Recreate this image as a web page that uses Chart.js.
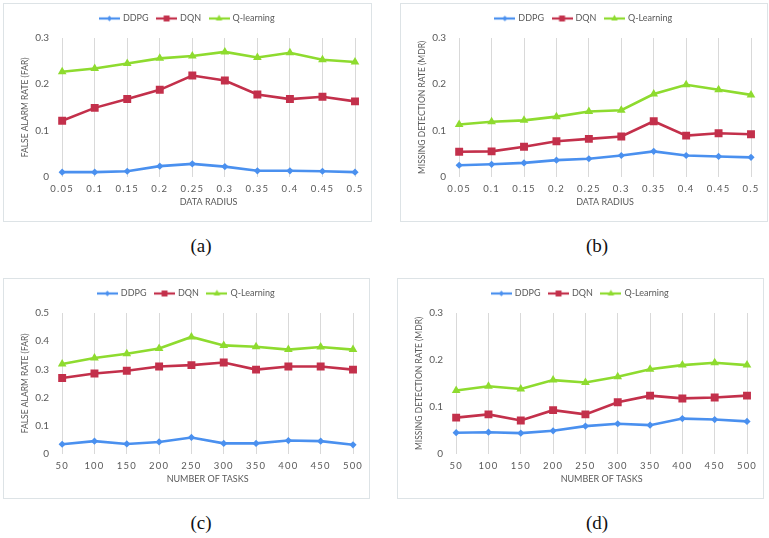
<!DOCTYPE html>
<html>
<head>
<meta charset="utf-8">
<script src="https://cdn.jsdelivr.net/npm/chart.js@4"></script>
<style>
  body { margin: 0; background: #fff; width: 769px; height: 538px; position: relative; overflow: hidden; }
  .box { position: absolute; border: 1px solid #dde3e6; box-sizing: border-box; background: #fff; }
  .box canvas { display: block; }
  .cap { position: absolute; font-family: "Liberation Serif", serif; font-size: 19px; color: #111; transform: translateX(-50%); }
</style>
</head>
<body>
<div class="box" style="left:3px;top:3px;width:369px;height:219px"><canvas id="chartA"></canvas></div>
<div class="box" style="left:400px;top:3px;width:368px;height:219px"><canvas id="chartB"></canvas></div>
<div class="box" style="left:3px;top:278px;width:367px;height:221px"><canvas id="chartC"></canvas></div>
<div class="box" style="left:397px;top:278px;width:367px;height:221px"><canvas id="chartD"></canvas></div>
<div class="cap" style="left:201px;top:235px">(a)</div>
<div class="cap" style="left:597px;top:235px">(b)</div>
<div class="cap" style="left:201px;top:512px">(c)</div>
<div class="cap" style="left:597px;top:512px">(d)</div>
<script>
// categories
const radiusLabels = ["0.05", "0.1", "0.15", "0.2", "0.25", "0.3", "0.35", "0.4", "0.45", "0.5"];
const taskLabels = ["50", "100", "150", "200", "250", "300", "350", "400", "450", "500"];

// (a) false alarm rate vs data radius
const farRadiusDDPG = [0.010, 0.010, 0.012, 0.023, 0.028, 0.022, 0.013, 0.013, 0.012, 0.010];
const farRadiusDQN = [0.121, 0.149, 0.168, 0.188, 0.219, 0.208, 0.178, 0.168, 0.173, 0.163];
const farRadiusQ = [0.227, 0.234, 0.245, 0.256, 0.261, 0.270, 0.258, 0.268, 0.253, 0.248];

// (b) missing detection rate vs data radius
const mdrRadiusDDPG = [0.025, 0.027, 0.030, 0.036, 0.039, 0.046, 0.055, 0.046, 0.044, 0.042];
const mdrRadiusDQN = [0.054, 0.055, 0.065, 0.077, 0.082, 0.087, 0.120, 0.089, 0.094, 0.092];
const mdrRadiusQ = [0.113, 0.119, 0.122, 0.130, 0.141, 0.144, 0.179, 0.199, 0.188, 0.177];

// (c) false alarm rate vs number of tasks
const farTaskDDPG = [0.034, 0.045, 0.035, 0.042, 0.058, 0.037, 0.037, 0.047, 0.045, 0.032];
const farTaskDQN = [0.269, 0.285, 0.295, 0.310, 0.315, 0.324, 0.299, 0.310, 0.310, 0.299];
const farTaskQ = [0.319, 0.340, 0.355, 0.374, 0.415, 0.385, 0.380, 0.370, 0.379, 0.370];

// (d) missing detection rate vs number of tasks
const mdrTaskDDPG = [0.045, 0.046, 0.044, 0.049, 0.059, 0.064, 0.061, 0.075, 0.073, 0.069];
const mdrTaskDQN = [0.077, 0.084, 0.071, 0.093, 0.084, 0.110, 0.124, 0.118, 0.120, 0.124];
const mdrTaskQ = [0.135, 0.144, 0.138, 0.157, 0.152, 0.164, 0.180, 0.189, 0.194, 0.189];

const blue = "#4a90ef";
const red = "#c3304b";
const green = "#8edb2f";
const tickColor = "#595959";
const font = "Lato, 'Open Sans', sans-serif";

// legend swatch: line with marker in the middle
function swatch(color, style, r) {
  const c = document.createElement("canvas");
  c.width = 21;
  c.height = 12;
  const ctx = c.getContext("2d");
  ctx.strokeStyle = color;
  ctx.lineWidth = 2.2;
  ctx.beginPath();
  ctx.moveTo(0, 6);
  ctx.lineTo(21, 6);
  ctx.stroke();
  ctx.fillStyle = color;
  Chart.helpers.drawPoint(ctx, { pointStyle: style, radius: r, rotation: 0, borderWidth: 0 }, 10.5, 6);
  return c;
}

// letter spacing for x tick labels (drawn after datasets, z=1)
const spacing = {
  id: "spacing",
  beforeInit(chart) {
    // a bit more room under the legend
    const fit = chart.legend.fit;
    chart.legend.fit = function () {
      fit.call(this);
      this.height += 5;
    };
  },
  afterDatasetsDraw(chart) {
    chart.ctx.letterSpacing = "1.2px";
  },
  afterDraw(chart) {
    chart.ctx.letterSpacing = "0px";
  },
};

function makeChart(id, labels, ddpg, dqn, q, qName, yMax, yTitle, xTitle) {
  const canvas = document.getElementById(id);
  const box = canvas.parentElement;
  canvas.width = box.clientWidth;
  canvas.height = box.clientHeight;
  const sets = [
    { label: "DDPG", data: ddpg, color: blue, style: "rectRot", r: 3.6 },
    { label: "DQN", data: dqn, color: red, style: "rect", r: 5.6 },
    { label: qName, data: q, color: green, style: "triangle", r: 5 },
  ];
  new Chart(canvas, {
    type: "line",
    data: {
      labels: labels,
      datasets: sets.map((s) => ({
        label: s.label,
        data: s.data,
        borderColor: s.color,
        backgroundColor: s.color,
        borderWidth: 2.6,
        pointStyle: s.style,
        pointRadius: s.r,
        pointBorderWidth: 0,
        pointBackgroundColor: s.color,
        tension: 0,
      })),
    },
    plugins: [spacing],
    options: {
      responsive: false,
      animation: false,
      layout: { padding: { left: 16, right: 16, top: 1, bottom: 14 } },
      scales: {
        x: {
          offset: false,
          grid: { color: "#d9d9d9", drawTicks: false },
          border: { display: false },
          ticks: { color: tickColor, padding: 6, z: 1, maxRotation: 0, font: { size: 9.5, family: font } },
          title: { display: true, text: xTitle, color: tickColor, padding: { top: -4, bottom: 0 }, font: { size: 9, family: font } },
        },
        y: {
          min: 0,
          max: yMax,
          grid: { display: false },
          border: { display: false },
          ticks: {
            stepSize: 0.1,
            color: tickColor,
            padding: 5,
            font: { size: 10, family: font },
            callback: (v) => (v === 0 ? "0" : v.toFixed(1)),
          },
          title: { display: true, text: yTitle, color: tickColor, padding: { top: 0, bottom: 0 }, font: { size: 8.5, family: font } },
        },
      },
      plugins: {
        tooltip: { enabled: false },
        legend: {
          display: true,
          position: "top",
          labels: {
            usePointStyle: true,
            pointStyleWidth: 18,
            boxHeight: 10,
            padding: 9,
            color: tickColor,
            font: { size: 9, family: font },
            generateLabels: (chart) =>
              sets.map((s, i) => ({
                text: s.label,
                fillStyle: s.color,
                strokeStyle: s.color,
                fontColor: tickColor,
                lineWidth: 0,
                pointStyle: swatch(s.color, s.style, s.r * 0.75),
                datasetIndex: i,
                hidden: false,
              })),
          },
        },
      },
    },
  });
}

makeChart("chartA", radiusLabels, farRadiusDDPG, farRadiusDQN, farRadiusQ, "Q-learning", 0.3, "FALSE ALARM RATE (FAR)", "DATA RADIUS");
makeChart("chartB", radiusLabels, mdrRadiusDDPG, mdrRadiusDQN, mdrRadiusQ, "Q-Learning", 0.3, "MISSING DETECTION RATE (MDR)", "DATA RADIUS");
makeChart("chartC", taskLabels, farTaskDDPG, farTaskDQN, farTaskQ, "Q-Learning", 0.5, "FALSE ALARM RATE (FAR)", "NUMBER OF TASKS");
makeChart("chartD", taskLabels, mdrTaskDDPG, mdrTaskDQN, mdrTaskQ, "Q-Learning", 0.3, "MISSING DETECTION RATE (MDR)", "NUMBER OF TASKS");
</script>
</body>
</html>
